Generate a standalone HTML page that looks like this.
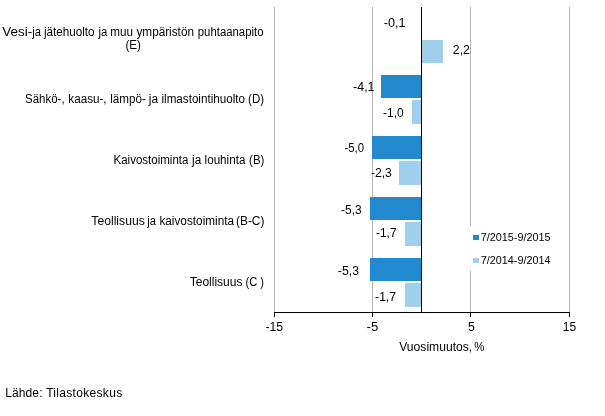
<!DOCTYPE html>
<html lang="fi"><head><meta charset="utf-8"><title>Vuosimuutos</title>
<style>
html,body{margin:0;padding:0;background:#fff}
svg{display:block;will-change:transform}
text{font-family:"Liberation Sans",Arial,sans-serif;fill:#000;font-size:12px}
.l{font-size:10.667px}
</style></head><body>
<svg width="605" height="416" viewBox="0 0 605 416">
<rect x="0" y="0" width="605" height="416" fill="#fff"/>
<rect x="274" y="7" width="1" height="305" fill="#c2c2c2"/>
<line x1="274.5" y1="7" x2="274.5" y2="312" stroke="#b2b2b2" stroke-width="1" stroke-dasharray="3 1" shape-rendering="crispEdges"/>
<rect x="372" y="7" width="1" height="305" fill="#c2c2c2"/>
<line x1="372.5" y1="7" x2="372.5" y2="312" stroke="#b2b2b2" stroke-width="1" stroke-dasharray="3 1" shape-rendering="crispEdges"/>
<rect x="470" y="7" width="1" height="305" fill="#c2c2c2"/>
<line x1="470.5" y1="7" x2="470.5" y2="312" stroke="#b2b2b2" stroke-width="1" stroke-dasharray="3 1" shape-rendering="crispEdges"/>
<rect x="569" y="7" width="1" height="305" fill="#c2c2c2"/>
<line x1="569.5" y1="7" x2="569.5" y2="312" stroke="#b2b2b2" stroke-width="1" stroke-dasharray="3 1" shape-rendering="crispEdges"/>
<rect x="422" y="40" width="21" height="23" fill="#a0cfee" shape-rendering="crispEdges"/>
<rect x="381" y="75" width="40" height="23" fill="#2389cf" shape-rendering="crispEdges"/>
<rect x="412" y="100" width="9" height="24" fill="#a0cfee" shape-rendering="crispEdges"/>
<rect x="372" y="136" width="49" height="23" fill="#2389cf" shape-rendering="crispEdges"/>
<rect x="399" y="161" width="22" height="24" fill="#a0cfee" shape-rendering="crispEdges"/>
<rect x="370" y="197" width="51" height="23" fill="#2389cf" shape-rendering="crispEdges"/>
<rect x="405" y="222" width="16" height="24" fill="#a0cfee" shape-rendering="crispEdges"/>
<rect x="370" y="258" width="51" height="23" fill="#2389cf" shape-rendering="crispEdges"/>
<rect x="405" y="283" width="16" height="24" fill="#a0cfee" shape-rendering="crispEdges"/>
<rect x="466" y="226" width="90" height="45" fill="#fff"/>
<rect x="473" y="235" width="6" height="5" fill="#2389cf" shape-rendering="crispEdges"/>
<rect x="473" y="258" width="6" height="5" fill="#a0cfee" shape-rendering="crispEdges"/>
<rect x="421" y="7" width="1" height="306" fill="#000"/>
<rect x="274" y="312" width="296" height="1" fill="#000"/>
<rect x="274" y="312" width="1" height="5" fill="#000"/>
<rect x="372" y="312" width="1" height="5" fill="#000"/>
<rect x="470" y="312" width="1" height="5" fill="#000"/>
<rect x="569" y="312" width="1" height="5" fill="#000"/>
<text y="36"><tspan x="2.20" textLength="30.01" lengthAdjust="spacingAndGlyphs">Vesi-</tspan> <tspan x="32.23" textLength="8.72" lengthAdjust="spacingAndGlyphs">ja</tspan> <tspan x="44.00" textLength="50.52" lengthAdjust="spacingAndGlyphs">jätehuolto</tspan> <tspan x="98.41" textLength="8.83" lengthAdjust="spacingAndGlyphs">ja</tspan> <tspan x="110.37" textLength="22.68" lengthAdjust="spacingAndGlyphs">muu</tspan> <tspan x="136.48" textLength="57.48" lengthAdjust="spacingAndGlyphs">ympäristön</tspan> <tspan x="197.80" textLength="65.70" lengthAdjust="spacingAndGlyphs">puhtaanapito</tspan> <tspan x="125.48" y="48.7" textLength="15.52" lengthAdjust="spacingAndGlyphs">(E)</tspan></text>
<text y="103"><tspan x="25.00" textLength="39.62" lengthAdjust="spacingAndGlyphs">Sähkö-,</tspan> <tspan x="68.37" textLength="38.26" lengthAdjust="spacingAndGlyphs">kaasu-,</tspan> <tspan x="110.17" textLength="35.62" lengthAdjust="spacingAndGlyphs">lämpö-</tspan> <tspan x="148.78" textLength="9.29" lengthAdjust="spacingAndGlyphs">ja</tspan> <tspan x="161.49" textLength="83.51" lengthAdjust="spacingAndGlyphs">ilmastointihuolto</tspan> <tspan x="248.09" textLength="16.01" lengthAdjust="spacingAndGlyphs">(D)</tspan></text>
<text y="164"><tspan x="113.50" textLength="74.90" lengthAdjust="spacingAndGlyphs">Kaivostoiminta</tspan> <tspan x="192.08" textLength="9.13" lengthAdjust="spacingAndGlyphs">ja</tspan> <tspan x="204.59" textLength="40.81" lengthAdjust="spacingAndGlyphs">louhinta</tspan> <tspan x="249.06" textLength="15.36" lengthAdjust="spacingAndGlyphs">(B)</tspan></text>
<text y="224.7"><tspan x="91.31" textLength="53.47" lengthAdjust="spacingAndGlyphs">Teollisuus</tspan> <tspan x="147.21" textLength="8.62" lengthAdjust="spacingAndGlyphs">ja</tspan> <tspan x="159.39" textLength="74.71" lengthAdjust="spacingAndGlyphs">kaivostoiminta</tspan> <tspan x="235.97" textLength="28.45" lengthAdjust="spacingAndGlyphs">(B-C)</tspan></text>
<text y="285.7"><tspan x="189.69" textLength="52.80" lengthAdjust="spacingAndGlyphs">Teollisuus</tspan> <tspan x="245.50" textLength="18.54" lengthAdjust="spacingAndGlyphs">(C )</tspan></text>
<text x="383.79" y="27" textLength="21.84" lengthAdjust="spacingAndGlyphs">-0,1</text>
<text x="452.84" y="53.5" textLength="17.05" lengthAdjust="spacingAndGlyphs">2,2</text>
<text x="353.12" y="91.2" textLength="21.42" lengthAdjust="spacingAndGlyphs">-4,1</text>
<text x="383.10" y="117" textLength="20.58" lengthAdjust="spacingAndGlyphs">-1,0</text>
<text x="344.40" y="151.9" textLength="19.69" lengthAdjust="spacingAndGlyphs">-5,0</text>
<text x="370.90" y="176.9" textLength="21.02" lengthAdjust="spacingAndGlyphs">-2,3</text>
<text x="341.10" y="213.8" textLength="20.58" lengthAdjust="spacingAndGlyphs">-5,3</text>
<text x="376.10" y="237" textLength="20.38" lengthAdjust="spacingAndGlyphs">-1,7</text>
<text x="337.86" y="274.8" textLength="21.20" lengthAdjust="spacingAndGlyphs">-5,3</text>
<text x="375.11" y="300.8" textLength="20.79" lengthAdjust="spacingAndGlyphs">-1,7</text>
<text x="265.46" y="330.5" textLength="17.63" lengthAdjust="spacingAndGlyphs">-15</text>
<text x="366.56" y="330.5" textLength="11.64" lengthAdjust="spacingAndGlyphs">-5</text>
<text x="467.98" y="330.5" textLength="6.90" lengthAdjust="spacingAndGlyphs">5</text>
<text x="562.75" y="330.5" textLength="13.37" lengthAdjust="spacingAndGlyphs">15</text>
<text y="351.4"><tspan x="399.25" textLength="72.90" lengthAdjust="spacingAndGlyphs">Vuosimuutos,</tspan> <tspan x="474.23" textLength="10.17" lengthAdjust="spacingAndGlyphs">%</tspan></text>
<text y="396.8"><tspan x="5.14" textLength="37.36" lengthAdjust="spacing">Lähde:</tspan> <tspan x="46.13" textLength="76.00" lengthAdjust="spacing">Tilastokeskus</tspan></text>
<text class="l" x="480.83" y="241" textLength="69.59" lengthAdjust="spacingAndGlyphs">7/2015-9/2015</text>
<text class="l" x="480.83" y="264" textLength="69.59" lengthAdjust="spacingAndGlyphs">7/2014-9/2014</text>
</svg>
</body></html>
